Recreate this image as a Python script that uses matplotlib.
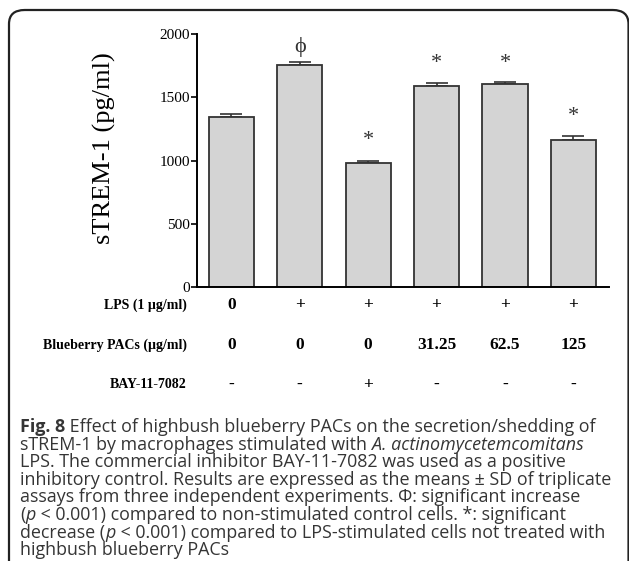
import numpy as np
import matplotlib
matplotlib.use("Agg")
import matplotlib.pyplot as plt
from matplotlib.patches import FancyBboxPatch

######### data
means = [1340, 1755, 978, 1588, 1602, 1163]
sd = [28, 22, 22, 24, 18, 32]
marks = ['', 'ϕ', '*', '*', '*', '*']
mark_y = [0, 1895, 1160, 1765, 1765, 1350]

lps = ['0', '+', '+', '+', '+', '+']
pacs = ['0', '0', '0', '31.25', '62.5', '125']
bay = ['-', '-', '+', '-', '-', '-']
row_names = ['LPS (1 µg/ml)', 'Blueberry PACs (µg/ml)', 'BAY-11-7082']

W, H = 629, 561
fig = plt.figure(figsize=(W/100., H/100.), dpi=100)

def fx(px):
    return px/float(W)
def fy(py):
    return 1 - py/float(H)

######### frame of the panel
box = FancyBboxPatch((fx(9), fy(H + 20)), fx(628.5) - fx(9), fy(10) - fy(H + 20),
                     boxstyle="round,pad=0,rounding_size=0.025", transform=fig.transFigure,
                     fill=False, lw=1.6, ec='#222222')
fig.patches.append(box)

######### bar chart
ax_l, ax_r, ax_t, ax_b = 197, 609, 34, 287
ax = fig.add_axes([fx(ax_l), fy(ax_b), fx(ax_r) - fx(ax_l), fy(ax_t) - fy(ax_b)])
x = np.arange(len(means))
ax.bar(x, means, width=0.66, color='#d4d4d4', edgecolor='#333333', lw=1.3, zorder=2)
ax.errorbar(x, means, yerr=[np.zeros(len(sd)), sd], fmt='none', ecolor='#333333',
            elinewidth=1.2, capsize=8, capthick=1.2, zorder=1)
for i in range(len(means)):
    if marks[i]:
        ax.text(x[i], mark_y[i], marks[i], ha='center', va='center', fontsize=16,
                family='Liberation Serif', color='#333333')

ax.set_xlim(-0.5, 5.52)
ax.set_ylim(0, 2000)
ax.set_yticks([0, 500, 1000, 1500, 2000])
ax.set_xticks([])
for s in ['top', 'right']:
    ax.spines[s].set_visible(False)
ax.spines['left'].set_linewidth(1.4)
ax.spines['bottom'].set_linewidth(1.4)
ax.tick_params(axis='y', length=4, width=1.2, pad=1, labelsize=11)
for t in ax.get_yticklabels():
    t.set_family('Liberation Serif')
ax.set_ylabel('sTREM-1 (pg/ml)', family='Liberation Serif', fontsize=19)
ax.yaxis.set_label_coords(-(ax_l - 116)/float(ax_r - ax_l), 0.55)

######### treatment rows under the axis
rows_y = [305, 345, 385]
for name, vals, ry in zip(row_names, [lps, pacs, bay], rows_y):
    fig.text(fx(187), fy(ry), name, ha='right', va='center', fontsize=10,
             family='Liberation Serif', weight='bold')
    for i, v in enumerate(vals):
        px = ax.transData.transform((x[i], 0))[0]
        fig.text(px/float(W), fy(ry), v, ha='center', va='center', fontsize=12.5,
                 family='Liberation Serif', weight='bold')

######### caption
cap = [
    [('Fig. 8', 'bold', 'normal'), (' Effect of highbush blueberry PACs on the secretion/shedding of', 'normal', 'normal')],
    [('sTREM-1 by macrophages stimulated with ', 'normal', 'normal'), ('A. actinomycetemcomitans', 'normal', 'italic')],
    [('LPS. The commercial inhibitor BAY-11-7082 was used as a positive', 'normal', 'normal')],
    [('inhibitory control. Results are expressed as the means ± SD of triplicate', 'normal', 'normal')],
    [('assays from three independent experiments. Φ: significant increase', 'normal', 'normal')],
    [('(', 'normal', 'normal'), ('p', 'normal', 'italic'), (' < 0.001) compared to non-stimulated control cells. *: significant', 'normal', 'normal')],
    [('decrease (', 'normal', 'normal'), ('p', 'normal', 'italic'), (' < 0.001) compared to LPS-stimulated cells not treated with', 'normal', 'normal')],
    [('highbush blueberry PACs', 'normal', 'normal')],
]
cap_top, cap_gap = 427, 17.6
fig.canvas.draw()
r = fig.canvas.get_renderer()
for k, line in enumerate(cap):
    xp = 20
    for txt, wgt, sty in line:
        t = fig.text(fx(xp), fy(cap_top + k*cap_gap), txt, ha='left', va='center',
                     fontsize=12.85, family='Open Sans', weight=wgt, style=sty, color='#353535')
        xp = t.get_window_extent(r).x1

fig.savefig('out.png', dpi=100)
